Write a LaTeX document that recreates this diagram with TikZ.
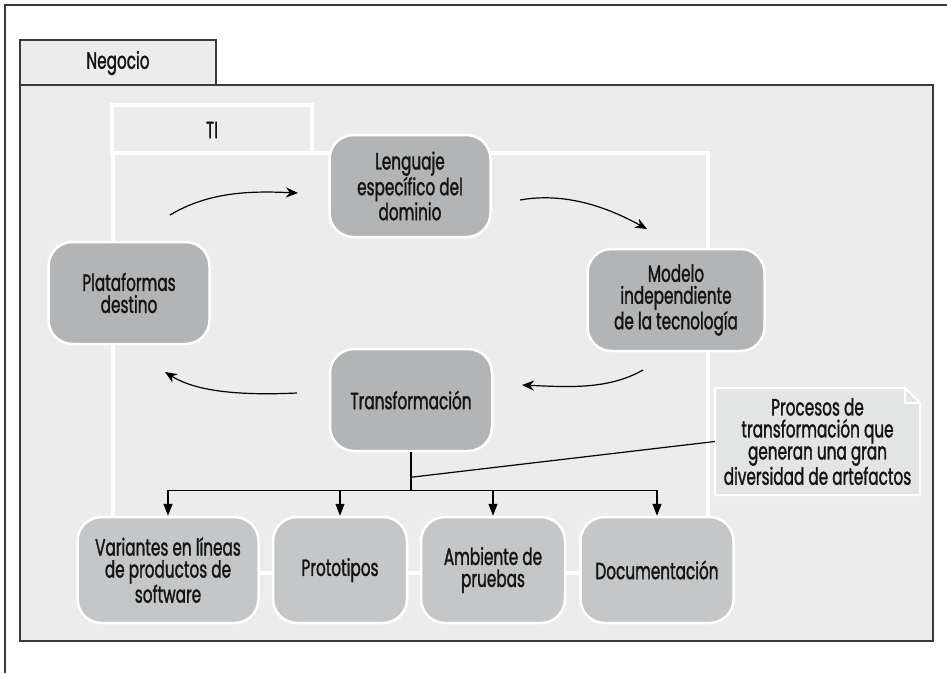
\documentclass[tikz,border=0pt]{standalone}
\usepackage{fontspec}
\setmainfont{Poppins}[FakeStretch=0.65,FakeBold=1.3]
\usetikzlibrary{arrows.meta}
\definecolor{fondo}{HTML}{EBECEB}
\definecolor{nodoA}{HTML}{B3B4B5}
\definecolor{nodoB}{HTML}{C5C6C7}
\definecolor{notafill}{HTML}{E3E4E4}
\definecolor{borde}{HTML}{3A3A3A}
\definecolor{texto}{HTML}{141414}
\tikzset{
  paso/.style={draw=white,line width=2.5pt,rounded corners=24pt,align=center,
    minimum height=102pt,fill=nodoA,text=texto},
  salida/.style={paso,fill=nodoB,minimum height=106pt},
  flecha/.style={line width=1.2pt,-{Stealth[length=12pt,width=10pt]}},
  rama/.style={line width=1.2pt,-{Triangle[length=12pt,width=9pt]}}
}
\begin{document}
\begin{tikzpicture}[x=1pt,y=-1pt,every node/.style={font=\fontsize{23.5}{22}\selectfont,text=texto}]
\useasboundingbox (0,0) rectangle (947,673);
% marco exterior
\draw[borde,line width=1.5pt] (5,673) -- (5,5) -- (947,5);
% Negocio
\filldraw[fill=fondo,draw=borde,line width=1.5pt] (20,85) rectangle (933,641);
\filldraw[fill=fondo,draw=borde,line width=1.5pt] (20,40) rectangle (216,85);
\node (negocio) at (118,63) {Negocio};
% TI
\draw[white,line width=3.5pt] (113,153) rectangle (708,573);
\draw[white,line width=3.5pt] (112,105) rectangle (312,153);
\node (ti) at (212,130) {TI};

\node[paso,minimum width=161pt] (lenguaje) at (410,186) {Lenguaje\\específico del\\dominio};
\node[paso,minimum width=161pt] (plataformas) at (129,293) {Plataformas\\destino};
\node[paso,minimum width=177pt] (modelo) at (676,300) {Modelo\\independiente\\de la tecnología};
\node[paso,minimum width=162pt] (transf) at (411,400) {Transformación};

\node[salida,minimum width=181pt] (variantes) at (168,570) {Variantes en líneas\\de productos de\\software};
\node[salida,minimum width=134pt] (prototipos) at (340,570) {Prototipos};
\node[salida,minimum width=144pt] (ambiente) at (493,570) {Ambiente de\\pruebas};
\node[salida,minimum width=153pt] (docu) at (657,570) {Documentación};

% ciclo
\coordinate (a1) at (170,215); \coordinate (a2) at (298,193);
\coordinate (b1) at (520,200); \coordinate (b2) at (647,229);
\coordinate (c1) at (643,370); \coordinate (c2) at (522,385);
\coordinate (d1) at (297,393); \coordinate (d2) at (165,372);
\draw[flecha] (a1) .. controls +(40,-24) and +(-45,-2) .. (a2);
\draw[flecha] (b1) .. controls +(45,-8) and +(-40,-22) .. (b2);
\draw[flecha] (c1) .. controls +(-35,20) and +(45,2) .. (c2);
\draw[flecha] (d1) .. controls +(-45,2) and +(35,22) .. (d2);

% nota
\filldraw[fill=notafill,draw=white,line width=2pt] (715,388) -- (905,388) -- (920,403) -- (920,495) -- (715,495) -- cycle;
\draw[white,line width=2pt] (905,388) -- (905,403) -- (920,403);
\node[minimum width=205pt,minimum height=107pt,align=center] (nota) at (817.5,441.5)
  {Procesos de\\transformación que\\generan una gran\\diversidad de artefactos};

% arbol
\draw[line width=1.2pt] (transf.south) -- ++(0,38) coordinate (nudo);
\path (transf.south) -- ++(0,25) coordinate (tronco);
\draw[line width=1.2pt] (tronco) -- (nota.west);
\foreach \n in {variantes,prototipos,ambiente,docu}
  \draw[rama] (nudo) -| (\n.north);
\end{tikzpicture}
\end{document}
